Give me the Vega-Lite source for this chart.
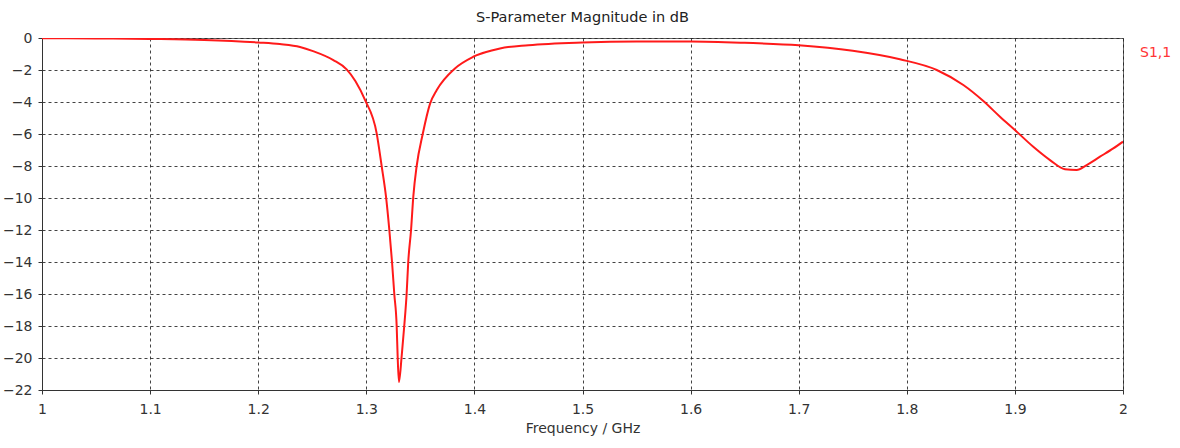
{
  "$schema": "https://vega.github.io/schema/vega-lite/v6.json",
  "autosize": "none",
  "width": 1081,
  "height": 352,
  "padding": {"left": 42, "top": 38, "right": 57, "bottom": 58},
  "background": "white",
  "title": {
    "text": "S-Parameter Magnitude in dB",
    "font": "DejaVu Sans",
    "fontSize": 14.5,
    "fontWeight": "normal",
    "color": "#222",
    "offset": 6,
    "anchor": "middle"
  },
  "config": {
    "view": {"stroke": "#666", "strokeWidth": 1},
    "axis": {
      "labelFont": "DejaVu Sans",
      "labelFontSize": 14,
      "labelColor": "#333",
      "titleFont": "DejaVu Sans",
      "titleFontSize": 14,
      "titleFontWeight": "normal",
      "titleColor": "#333",
      "domainColor": "#333",
      "tickColor": "#333",
      "gridColor": "#222",
      "gridDash": [3, 3],
      "gridOpacity": 0.85
    }
  },
  "data": {
    "values": [
      {"f": 1.00, "db": -0.02, "s": "S1,1"},
      {"f": 1.05, "db": -0.03, "s": "S1,1"},
      {"f": 1.10, "db": -0.06, "s": "S1,1"},
      {"f": 1.15, "db": -0.12, "s": "S1,1"},
      {"f": 1.20, "db": -0.28, "s": "S1,1"},
      {"f": 1.22, "db": -0.38, "s": "S1,1"},
      {"f": 1.2387, "db": -0.56, "s": "S1,1"},
      {"f": 1.2507, "db": -0.82, "s": "S1,1"},
      {"f": 1.2695, "db": -1.38, "s": "S1,1"},
      {"f": 1.2818, "db": -1.96, "s": "S1,1"},
      {"f": 1.29, "db": -2.7, "s": "S1,1"},
      {"f": 1.2988, "db": -3.87, "s": "S1,1"},
      {"f": 1.3096, "db": -5.96, "s": "S1,1"},
      {"f": 1.3142, "db": -8.0, "s": "S1,1"},
      {"f": 1.3182, "db": -9.9, "s": "S1,1"},
      {"f": 1.3213, "db": -12.0, "s": "S1,1"},
      {"f": 1.3238, "db": -14.0, "s": "S1,1"},
      {"f": 1.3259, "db": -16.0, "s": "S1,1"},
      {"f": 1.3281, "db": -18.0, "s": "S1,1"},
      {"f": 1.329, "db": -19.9, "s": "S1,1"},
      {"f": 1.3302, "db": -21.5, "s": "S1,1"},
      {"f": 1.3327, "db": -19.9, "s": "S1,1"},
      {"f": 1.3351, "db": -18.0, "s": "S1,1"},
      {"f": 1.3373, "db": -16.0, "s": "S1,1"},
      {"f": 1.3388, "db": -14.0, "s": "S1,1"},
      {"f": 1.3414, "db": -12.0, "s": "S1,1"},
      {"f": 1.3435, "db": -9.9, "s": "S1,1"},
      {"f": 1.3466, "db": -8.0, "s": "S1,1"},
      {"f": 1.3522, "db": -6.0, "s": "S1,1"},
      {"f": 1.359, "db": -4.1, "s": "S1,1"},
      {"f": 1.3652, "db": -3.25, "s": "S1,1"},
      {"f": 1.382, "db": -1.9, "s": "S1,1"},
      {"f": 1.399, "db": -1.17, "s": "S1,1"},
      {"f": 1.4237, "db": -0.65, "s": "S1,1"},
      {"f": 1.45, "db": -0.45, "s": "S1,1"},
      {"f": 1.5, "db": -0.28, "s": "S1,1"},
      {"f": 1.55, "db": -0.22, "s": "S1,1"},
      {"f": 1.6, "db": -0.22, "s": "S1,1"},
      {"f": 1.65, "db": -0.3, "s": "S1,1"},
      {"f": 1.7, "db": -0.45, "s": "S1,1"},
      {"f": 1.75, "db": -0.8, "s": "S1,1"},
      {"f": 1.7936, "db": -1.33, "s": "S1,1"},
      {"f": 1.8277, "db": -2.0, "s": "S1,1"},
      {"f": 1.8523, "db": -2.94, "s": "S1,1"},
      {"f": 1.8708, "db": -3.94, "s": "S1,1"},
      {"f": 1.8862, "db": -4.92, "s": "S1,1"},
      {"f": 1.9, "db": -5.75, "s": "S1,1"},
      {"f": 1.917, "db": -6.8, "s": "S1,1"},
      {"f": 1.9325, "db": -7.63, "s": "S1,1"},
      {"f": 1.9463, "db": -8.2, "s": "S1,1"},
      {"f": 1.9571, "db": -8.25, "s": "S1,1"},
      {"f": 1.9664, "db": -7.94, "s": "S1,1"},
      {"f": 1.9787, "db": -7.42, "s": "S1,1"},
      {"f": 1.991, "db": -6.9, "s": "S1,1"},
      {"f": 2.0, "db": -6.48, "s": "S1,1"}
    ]
  },
  "mark": {"type": "line", "interpolate": "monotone", "strokeWidth": 2, "clip": true},
  "encoding": {
    "x": {
      "field": "f",
      "type": "quantitative",
      "scale": {"domain": [1, 2], "nice": false, "zero": false},
      "axis": {
        "values": [1, 1.1, 1.2, 1.3, 1.4, 1.5, 1.6, 1.7, 1.8, 1.9, 2],
        "format": ".1~f",
        "title": "Frequency / GHz",
        "labelPadding": 8,
        "titlePadding": 5,
        "tickSize": 4,
        "labelFlush": false
      }
    },
    "y": {
      "field": "db",
      "type": "quantitative",
      "scale": {"domain": [-22, 0], "nice": false, "zero": false},
      "axis": {
        "values": [0, -2, -4, -6, -8, -10, -12, -14, -16, -18, -20, -22],
        "title": null,
        "tickSize": 4,
        "labelPadding": 6,
        "labelFlush": false
      }
    },
    "color": {
      "field": "s",
      "type": "nominal",
      "scale": {"range": ["#ff1a1a"]},
      "legend": {
        "orient": "none",
        "legendX": 1084,
        "legendY": 8,
        "title": null,
        "symbolOpacity": 0,
        "symbolSize": 0,
        "symbolStrokeWidth": 0,
        "labelColor": "#ff3535",
        "labelFont": "DejaVu Sans",
        "labelFontSize": 14,
        "labelOffset": 0
      }
    }
  }
}
